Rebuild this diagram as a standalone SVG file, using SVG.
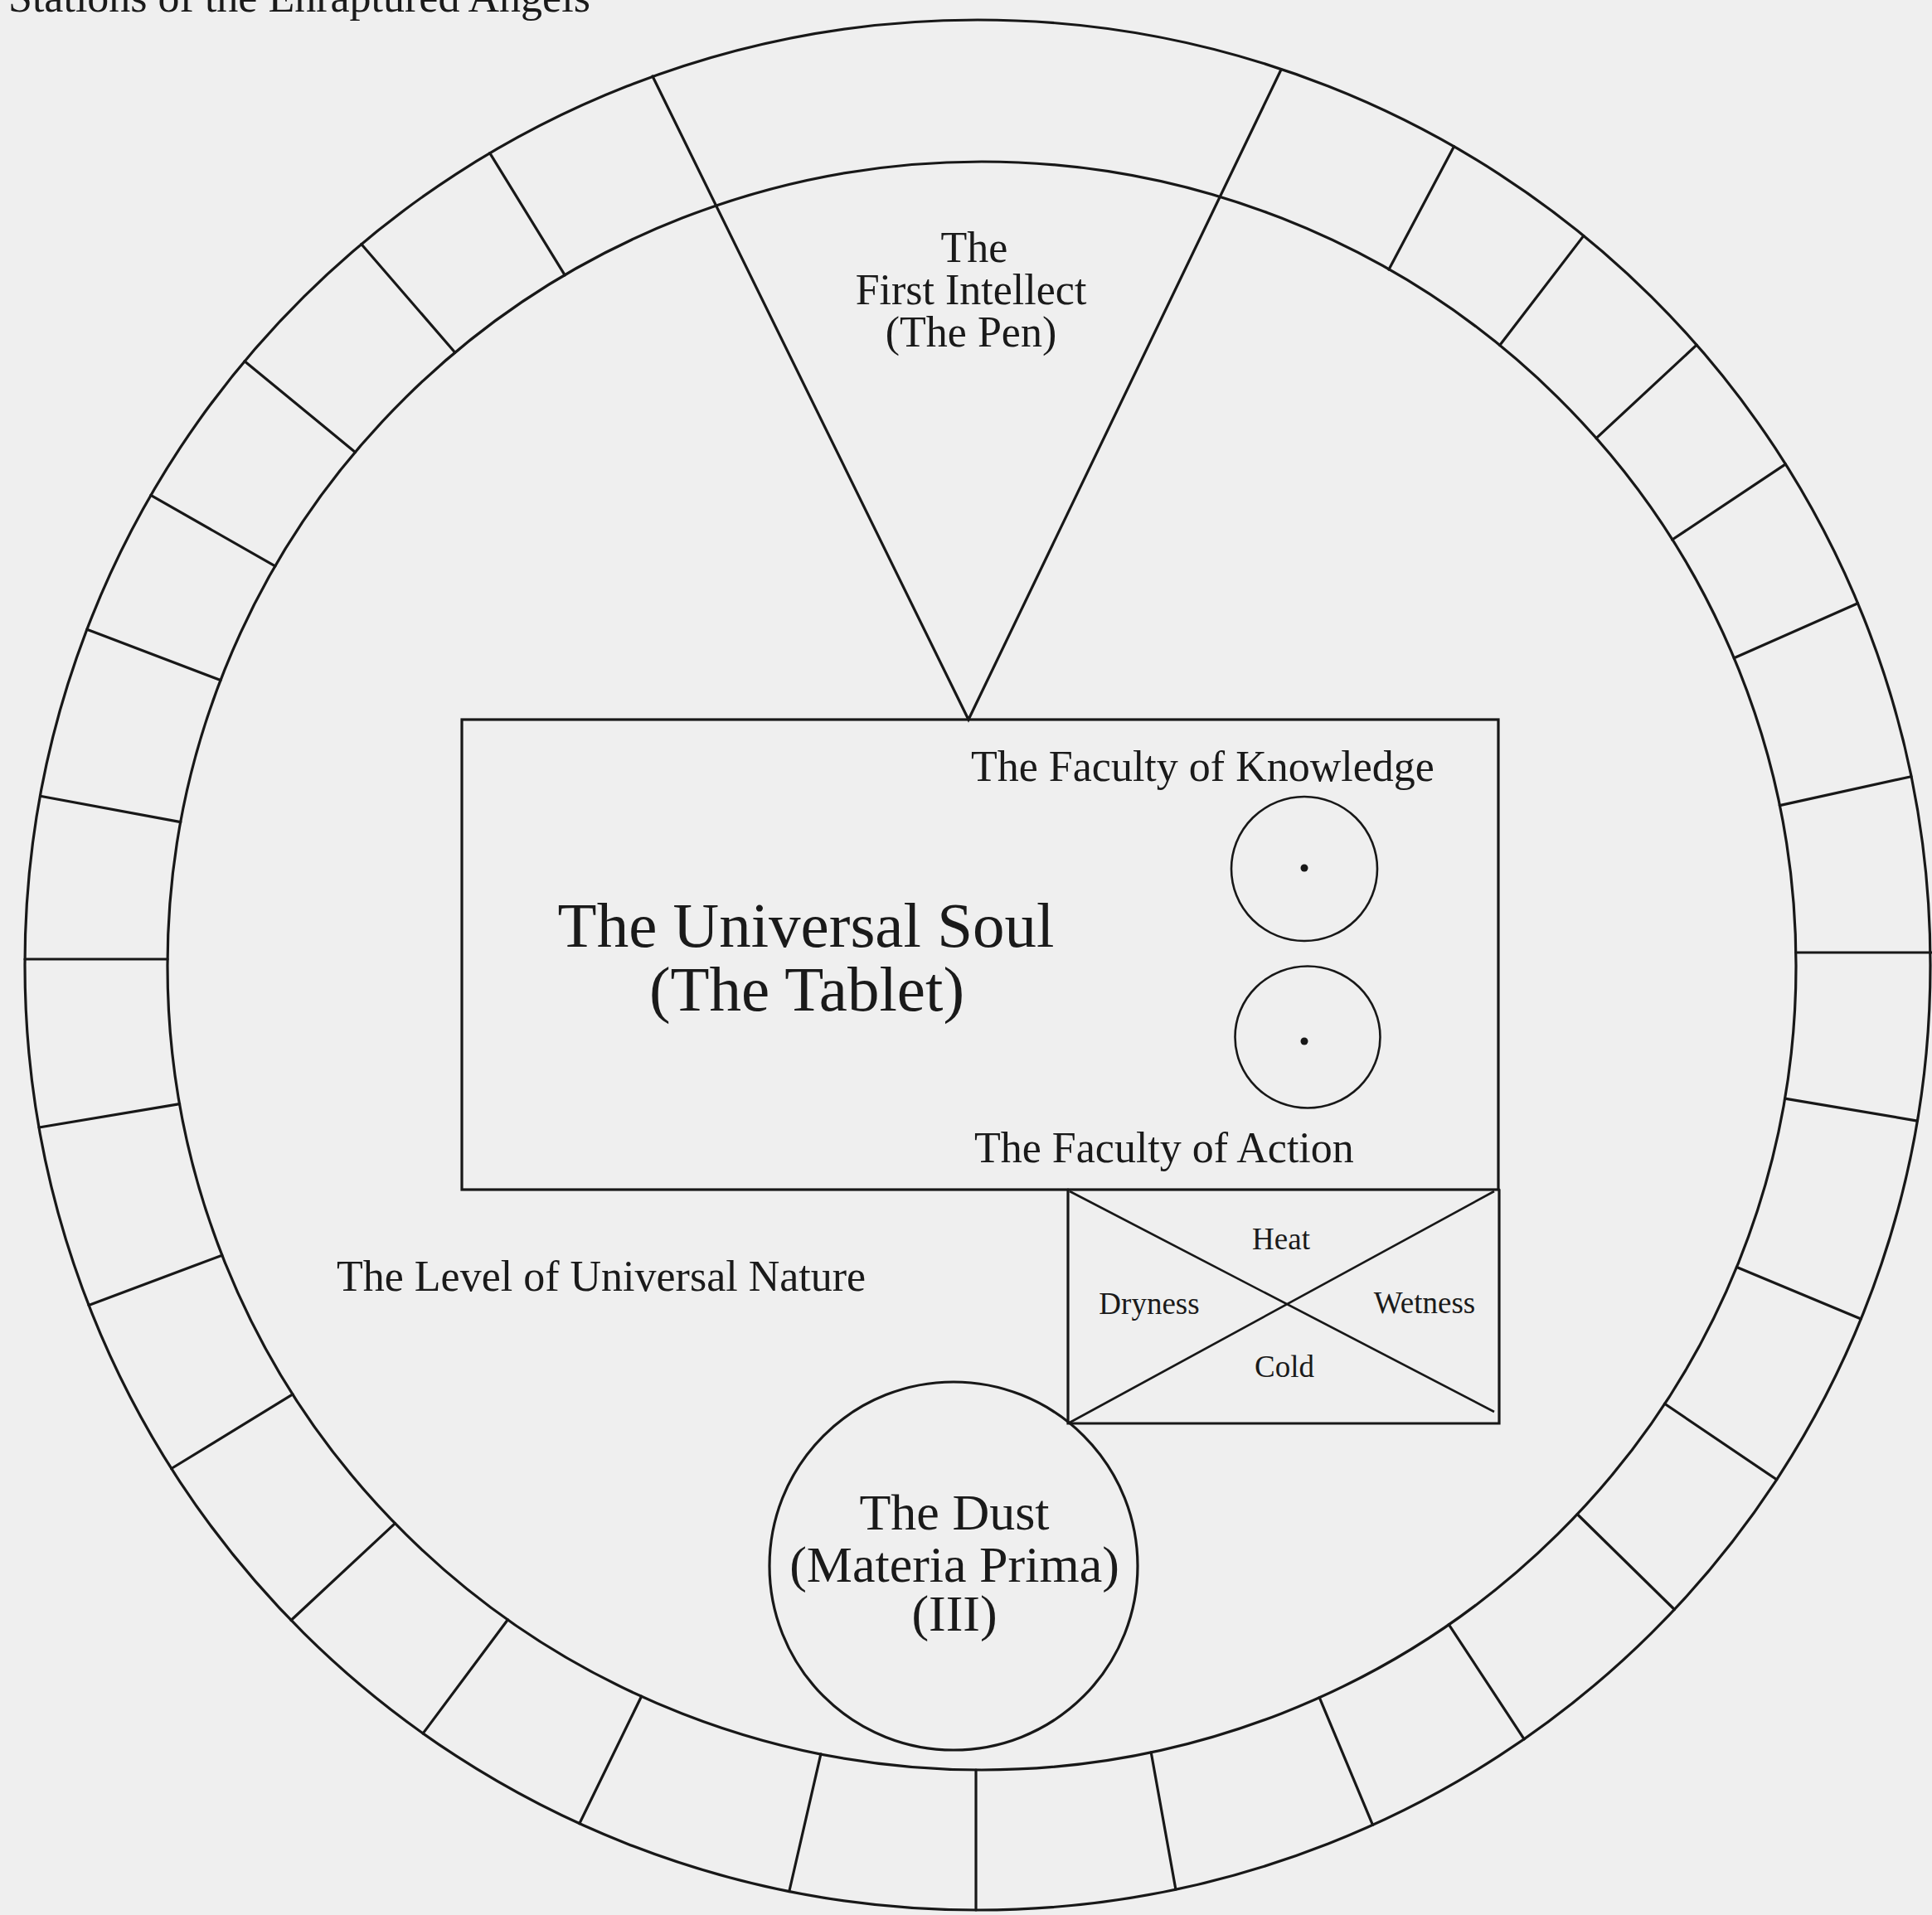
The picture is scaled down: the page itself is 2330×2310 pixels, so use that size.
<svg xmlns="http://www.w3.org/2000/svg" width="2330" height="2310" viewBox="0 0 2330 2310">
<style>
.ln{fill:none;stroke:#181818;stroke-width:3.2;stroke-linecap:round}
.thin{fill:none;stroke:#181818;stroke-width:2.6}
.t{font-family:"Liberation Serif","Times New Roman",serif;fill:#1a1a1a}
.m{font-size:52px}
.s{font-size:37px}
.c{text-anchor:middle}
</style>
<rect x="0" y="0" width="2330" height="2310" fill="#efefef"/>
<text class="t m" x="10" y="14">Stations of the Enraptured Angels</text>
<g id="ring">
<ellipse class="ln" cx="1179" cy="1164" rx="1149" ry="1140"/>
<ellipse class="ln" cx="1184" cy="1165" rx="982" ry="970"/>
<path class="ln" d="M1675,325L1753.5,176.7M1808.7,416.5L1909.9,284.4M1925.1,528.6L2046.1,416.1M2016.7,651L2153.4,559.9M2091.3,793.8L2240.5,727.7M2146.3,971.6L2304.9,936.7M2166,1149L2330,1149M2152.5,1325.1L2312.3,1352.1M2094.5,1528.4L2244.3,1591M2007.6,1693.3L2142.7,1784.8M1902.2,1826.5L2019.4,1941.5M1747.3,1959.6L1838.1,2097.9M1591.2,2047.7L1655.5,2201.4M1388.2,2113.8L1417.9,2279M1177,2135L1177,2304M989.9,2115.9L951.8,2281.5M773.6,2046.2L698.8,2199.7M612.4,1953.7L510.2,2090.9M476.4,1837.6L351,1954.5M353,1681.9L206.7,1771.5M267.8,1514.2L107,1574.4M216.6,1331.7L47.1,1360M202,1157L30,1157M217.8,991.6L48.5,960.2M266,820.6L104.9,759.2M331.8,682.9L181.9,597.4M428.4,545.4L295,435.8M548.8,425.2L435.8,294.5M681.2,331.8L590.7,184.7"/>
</g>
<g id="first-intellect">
<text class="t m c" x="1175" y="316">The</text>
<text class="t m c" x="1171" y="367">First Intellect</text>
<text class="t m c" x="1171" y="418">(The Pen)</text>
</g>
<g id="universal-soul">
<rect class="ln" x="557" y="868" width="1250" height="567"/>
<text class="t c" style="font-size:77px" x="972" y="1142">The Universal Soul</text>
<text class="t c" style="font-size:77px" x="973" y="1219">(The Tablet)</text>
</g>
<g id="faculty-knowledge">
<text class="t m" x="1171" y="942">The Faculty of Knowledge</text>
<ellipse class="thin" cx="1573" cy="1048" rx="88" ry="87"/>
<circle cx="1573" cy="1047" r="4.5" fill="#181818"/>
</g>
<g id="faculty-action">
<ellipse class="thin" cx="1577" cy="1251" rx="87.5" ry="85.5"/>
<circle cx="1573" cy="1256" r="4.5" fill="#181818"/>
<text class="t m" x="1175" y="1402">The Faculty of Action</text>
</g>
<g id="universal-nature">
<text class="t m" x="406" y="1557">The Level of Universal Nature</text>
<path class="ln" d="M1288,1435L1288,1717L1808,1717L1808,1435"/>
<path class="thin" d="M1290,1437L1802,1703M1802,1437L1290,1716"/>
<text class="t s c" x="1545" y="1507">Heat</text>
<text class="t s c" x="1386" y="1585">Dryness</text>
<text class="t s c" x="1718" y="1584">Wetness</text>
<text class="t s c" x="1549" y="1661">Cold</text>
</g>
<g id="dust">
<circle class="ln" cx="1150" cy="1889" r="222"/>
<text class="t c" style="font-size:62px" x="1151" y="1845">The Dust</text>
<text class="t c" style="font-size:62px" x="1151" y="1908">(Materia Prima)</text>
<text class="t c" style="font-size:62px" x="1151" y="1967">(III)</text>
</g>
<g id="connectors">
<path class="ln" d="M787,92L1168,868L1545,84"/>
</g>
</svg>
